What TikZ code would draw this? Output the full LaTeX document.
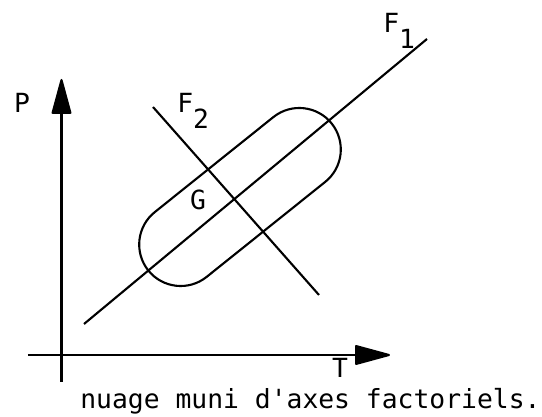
\documentclass[tikz,border=0pt]{standalone}
\usepackage{fontspec}
\setmonofont{DejaVu Sans Mono}
\usetikzlibrary{arrows.meta}
\tikzset{
  axe/.style={     % axes P and T
    line width=1.2pt, -{Triangle[length=0.76cm, width=0.40cm, round]}
  },
  droite/.style={  % factorial axes
    line width=1.2pt
  },
  lbl/.style={     % typewriter labels
    font=\fontsize{15}{18}\selectfont\ttfamily, inner sep=0pt
  },
  nuagebox/.style={ % the cloud
    draw, line width=1.2pt, rectangle, rounded corners=0.83cm,
    minimum width=4.70cm, minimum height=1.66cm, rotate=38.7
  },
}

\begin{document}
\begin{tikzpicture}
\useasboundingbox (0,0) rectangle (10.84,8.34);

%% ─── Axes P / T ──────────────────────────────────────────────────────────────
\coordinate (pbas)  at (1.23, 0.70);
\coordinate (phaut) at (1.23, 6.76);
\coordinate (tgau)  at (0.56, 1.24);
\coordinate (tdro)  at (7.80, 1.24);

\draw[axe] (pbas) -- (phaut);
\draw[axe] (tgau) -- (tdro);

\node[lbl] (P) at (0.44, 6.28) {P};
\node[lbl] (T) at (6.80, 0.98) {T};

%% ─── Cloud and factorial axes ────────────────────────────────────────────────
\node[nuagebox] (nuage) at (4.80, 4.40) {};

\coordinate (f1a) at (1.68, 1.86);
\coordinate (f1b) at (8.54, 7.56);
\coordinate (f2a) at (3.06, 6.20);
\coordinate (f2b) at (6.38, 2.44);

\draw[droite] (f1a) -- (f1b);
\draw[droite] (f2a) -- (f2b);

\node[lbl, anchor=base west] (F1) at (7.66, 7.68) {F\raisebox{-0.6em}{1}};
\node[lbl, anchor=base west] (F2) at (3.54, 6.08) {F\raisebox{-0.6em}{2}};
\node[lbl] (G) at (3.96, 4.34) {G};

%% ─── Caption ─────────────────────────────────────────────────────────────────
\node[lbl, anchor=base west] (legende) at (1.60, 0.16)
  {nuage muni d'axes factoriels.};

\end{tikzpicture}
\end{document}
